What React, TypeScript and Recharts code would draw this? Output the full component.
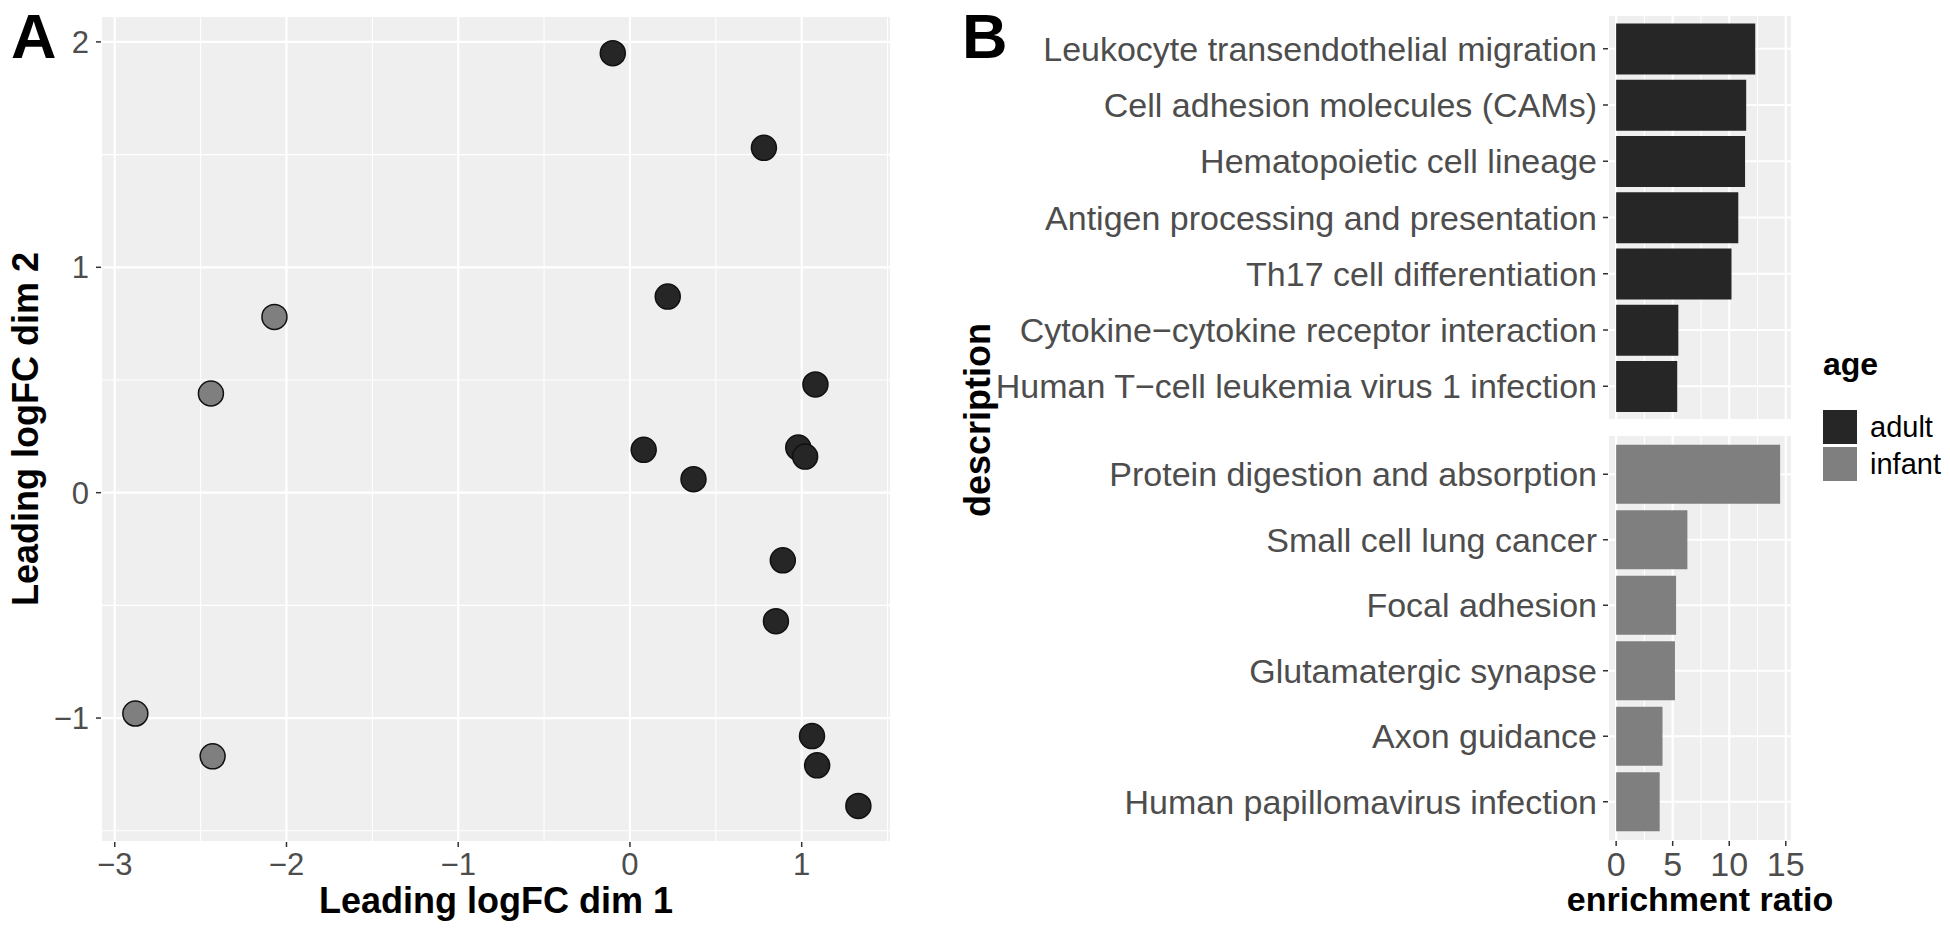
import React from "react";
import {
  ScatterChart,
  Scatter,
  BarChart,
  Bar,
  XAxis,
  YAxis,
  CartesianGrid,
  Label,
} from "recharts";

// Panel A: MDS plot, leading logFC dims, split by age group
const adultX = [-0.1, 0.78, 0.22, 1.08, 0.08, 0.98, 1.02, 0.37, 0.89, 0.85, 1.06, 1.09, 1.33];
const adultY = [1.95, 1.53, 0.87, 0.48, 0.19, 0.2, 0.16, 0.06, -0.3, -0.57, -1.08, -1.21, -1.39];
const infantX = [-2.07, -2.44, -2.88, -2.43];
const infantY = [0.78, 0.44, -0.98, -1.17];

const xTicksA = [-3, -2, -1, 0, 1];
const yTicksA = [-1, 0, 1, 2];
const xMinorA = [-2.5, -1.5, -0.5, 0.5, 1.5];
const yMinorA = [-1.5, -0.5, 0.5, 1.5];

// Panel B: KEGG pathway enrichment
const adultPathways = [
  "Leukocyte transendothelial migration",
  "Cell adhesion molecules (CAMs)",
  "Hematopoietic cell lineage",
  "Antigen processing and presentation",
  "Th17 cell differentiation",
  "Cytokine−cytokine receptor interaction",
  "Human T−cell leukemia virus 1 infection",
];
const adultRatio = [12.3, 11.5, 11.4, 10.8, 10.2, 5.5, 5.4];

const infantPathways = [
  "Protein digestion and absorption",
  "Small cell lung cancer",
  "Focal adhesion",
  "Glutamatergic synapse",
  "Axon guidance",
  "Human papillomavirus infection",
];
const infantRatio = [14.5, 6.3, 5.3, 5.2, 4.1, 3.85];

const xTicksB = [0, 5, 10, 15];
const xMinorB = [2.5, 7.5, 12.5];

const ageGroups = ["adult", "infant"];
const ageColors = ["#262626", "#7f7f7f"];

const FONT = "'Liberation Sans', Arial, Helvetica, sans-serif";
const PANEL_BG = "#efefef";
const TICK_COLOR = "#4d4d4d";

const adultPts = adultX.map((x, i) => ({ x, y: adultY[i] }));
const infantPts = infantX.map((x, i) => ({ x, y: infantY[i] }));
const adultRows = adultPathways.map((name, i) => ({ name, value: adultRatio[i] }));
const infantRows = infantPathways.map((name, i) => ({ name, value: infantRatio[i] }));

const minus = (v: number) => (v < 0 ? `−${Math.abs(v)}` : `${v}`);

const dot = (fill: string) => (p: any) => (
  <circle cx={p.cx} cy={p.cy} r={12.5} fill={fill} stroke="#111" strokeWidth={1.5} />
);

function PathwayTick(props: any) {
  const { x, y, payload } = props;
  return (
    <text x={x} y={y} dy="0.355em" textAnchor="end" fontSize={34} fill={TICK_COLOR}>
      {payload.value}
    </text>
  );
}

const tickLine = { stroke: "#333", strokeWidth: 1.5 };

export default function App() {
  return (
    <div
      style={{
        position: "absolute",
        left: 0,
        top: 0,
        width: 1950,
        height: 939,
        background: "#fff",
        fontFamily: FONT,
        overflow: "hidden",
      }}
    >
      {/* Panel A */}
      <div style={{ position: "absolute", left: 0, top: 0 }}>
        <ScatterChart width={900} height={939} margin={{ top: 16, right: 9, bottom: 0, left: 0 }}>
          <CartesianGrid
            fill={PANEL_BG}
            stroke="#fff"
            strokeWidth={1.1}
            verticalValues={xMinorA}
            horizontalValues={yMinorA}
          />
          <CartesianGrid stroke="#fff" strokeWidth={2.2} fill="none" />
          <XAxis
            type="number"
            dataKey="x"
            domain={[-3.08, 1.52]}
            ticks={xTicksA}
            allowDataOverflow
            height={97}
            axisLine={false}
            tickSize={5}
            tickMargin={6}
            tickLine={tickLine}
            tick={{ fontSize: 31, fill: TICK_COLOR }}
            tickFormatter={minus}
          >
            <Label
              content={({ viewBox }: any) => (
                <text
                  x={viewBox.x + viewBox.width / 2}
                  y={viewBox.y + 71}
                  textAnchor="middle"
                  fontSize={36}
                  fontWeight="bold"
                  fill="#000"
                >
                  Leading logFC dim 1
                </text>
              )}
            />
          </XAxis>
          <YAxis
            type="number"
            dataKey="y"
            domain={[-1.55, 2.115]}
            ticks={yTicksA}
            allowDataOverflow
            width={101}
            axisLine={false}
            tickSize={5}
            tickMargin={7}
            tickLine={tickLine}
            tick={{ fontSize: 31, fill: TICK_COLOR }}
            tickFormatter={minus}
          >
            <Label
              content={({ viewBox }: any) => (
                <text
                  transform={`translate(38, ${viewBox.y + viewBox.height / 2}) rotate(-90)`}
                  textAnchor="middle"
                  fontSize={36}
                  fontWeight="bold"
                  fill="#000"
                >
                  Leading logFC dim 2
                </text>
              )}
            />
          </YAxis>
          <Scatter name={ageGroups[0]} data={adultPts} shape={dot(ageColors[0])} isAnimationActive={false} />
          <Scatter name={ageGroups[1]} data={infantPts} shape={dot(ageColors[1])} isAnimationActive={false} />
        </ScatterChart>
      </div>

      {/* Panel B, adult facet */}
      <div style={{ position: "absolute", left: 960, top: 0 }}>
        <BarChart
          layout="vertical"
          width={990}
          height={420}
          data={adultRows}
          margin={{ top: 15, right: 158, bottom: 0, left: 0 }}
          barCategoryGap="5%"
        >
          <CartesianGrid fill={PANEL_BG} stroke="#fff" strokeWidth={1.1} horizontal={false} verticalValues={xMinorB} />
          <CartesianGrid stroke="#fff" strokeWidth={2.2} fill="none" />
          <XAxis type="number" domain={[-0.72, 15.55]} ticks={xTicksB} allowDataOverflow hide />
          <YAxis
            type="category"
            dataKey="name"
            width={648}
            axisLine={false}
            tickSize={5}
            tickMargin={6}
            tickLine={tickLine}
            tick={<PathwayTick />}
            interval={0}
            padding={{ top: 5.6, bottom: 5.6 }}
          />
          <Bar dataKey="value" fill={ageColors[0]} isAnimationActive={false} />
        </BarChart>
      </div>

      {/* Panel B, infant facet */}
      <div style={{ position: "absolute", left: 960, top: 420 }}>
        <BarChart
          layout="vertical"
          width={990}
          height={519}
          data={infantRows}
          margin={{ top: 15, right: 158, bottom: 0, left: 0 }}
          barCategoryGap="5%"
        >
          <CartesianGrid fill={PANEL_BG} stroke="#fff" strokeWidth={1.1} horizontal={false} verticalValues={xMinorB} />
          <CartesianGrid stroke="#fff" strokeWidth={2.2} fill="none" />
          <XAxis
            type="number"
            domain={[-0.72, 15.55]}
            ticks={xTicksB}
            allowDataOverflow
            height={98}
            axisLine={false}
            tickSize={5}
            tickMargin={6}
            tickLine={tickLine}
            tick={{ fontSize: 34, fill: TICK_COLOR }}
          >
            <Label
              content={({ viewBox }: any) => (
                <text
                  x={viewBox.x + viewBox.width / 2}
                  y={viewBox.y + 70}
                  textAnchor="middle"
                  fontSize={34}
                  fontWeight="bold"
                  fill="#000"
                >
                  enrichment ratio
                </text>
              )}
            />
          </XAxis>
          <YAxis
            type="category"
            dataKey="name"
            width={648}
            axisLine={false}
            tickSize={5}
            tickMargin={6}
            tickLine={tickLine}
            tick={<PathwayTick />}
            interval={0}
            padding={{ top: 6.5, bottom: 6.5 }}
          />
          <Bar dataKey="value" fill={ageColors[1]} isAnimationActive={false} />
        </BarChart>
      </div>

      {/* panel tags, shared y title and legend */}
      <svg
        width={1950}
        height={939}
        style={{ position: "absolute", left: 0, top: 0, pointerEvents: "none" }}
      >
        <text x={11} y={58} fontSize={63} fontWeight="bold" fill="#000">A</text>
        <text x={962} y={58} fontSize={63} fontWeight="bold" fill="#000">B</text>
        <text
          transform="translate(990, 420) rotate(-90)"
          textAnchor="middle"
          fontSize={36}
          fontWeight="bold"
          fill="#000"
        >
          description
        </text>
        <text x={1823} y={375} fontSize={32} fontWeight="bold" fill="#000">age</text>
        {ageGroups.map((g, i) => (
          <g key={g}>
            <rect x={1823} y={410 + i * 37} width={34} height={34} fill={ageColors[i]} />
            <text x={1870} y={427 + i * 37} dy="0.355em" fontSize={29} fill="#000">
              {g}
            </text>
          </g>
        ))}
      </svg>
    </div>
  );
}
